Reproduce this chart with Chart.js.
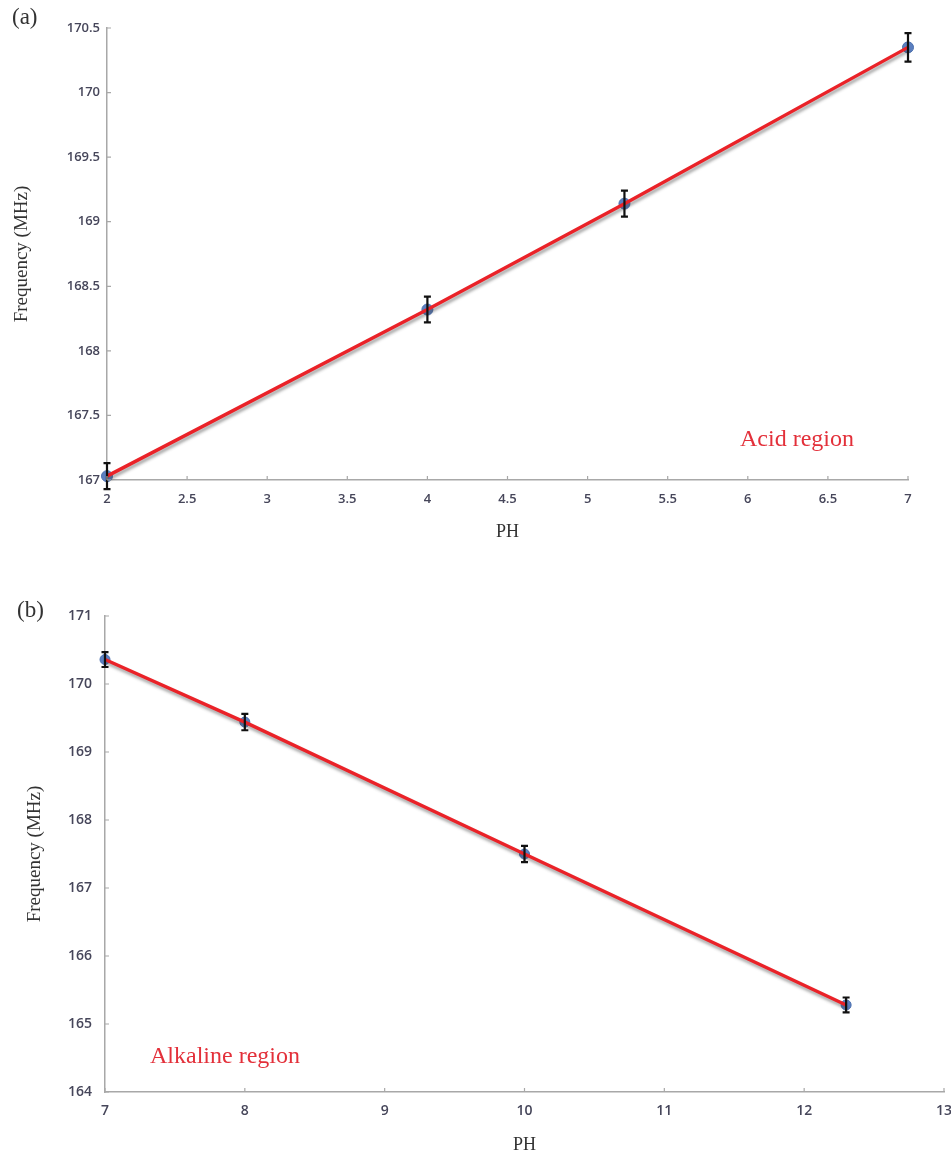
<!DOCTYPE html>
<html>
<head>
<meta charset="utf-8">
<script src="https://cdn.jsdelivr.net/npm/chart.js@4.4.1/dist/chart.umd.min.js"></script>
<style>
  html, body { margin: 0; padding: 0; background: #fff; }
  body { width: 951px; height: 1164px; position: relative; overflow: hidden; }
  .panel { position: absolute; left: 0; width: 951px; }
  .tag { position: absolute; font-family: "Liberation Serif", serif; font-size: 23px; color: #333; }
  .region { position: absolute; font-family: "Liberation Serif", serif; font-size: 24px; color: #e3303a; }
</style>
</head>
<body>
<div class="panel" style="top:0;height:560px"><canvas id="acid"></canvas></div>
<div class="panel" style="top:560px;height:604px"><canvas id="alkaline"></canvas></div>
<div class="tag" style="left:12px;top:4px">(a)</div>
<div class="tag" style="left:17px;top:597px">(b)</div>
<div class="region" style="left:740px;top:425px">Acid region</div>
<div class="region" style="left:150px;top:1042px">Alkaline region</div>
<script>
// Acid region measurements
const phAcid = [2, 4, 5.23, 7];
const freqAcid = [167.03, 168.32, 169.14, 170.35];
const errAcid = [0.1, 0.1, 0.1, 0.11];

// Alkaline region measurements
const phAlk = [7, 8, 10, 12.3];
const freqAlk = [170.36, 169.44, 167.5, 165.28];
const errAlk = [0.11, 0.12, 0.12, 0.11];

// Axis ranges and tick steps
const xAcidTicks = { min: 2, max: 7, step: 0.5 };
const yAcidTicks = { min: 167, max: 170.5, step: 0.5 };
const xAlkTicks = { min: 7, max: 13, step: 1 };
const yAlkTicks = { min: 164, max: 171, step: 1 };

const AXIS_COLOR = '#a8a8a8';
const TICK_COLOR = '#46465a';

// Soft grey shadow under the fitted red line (dataset 0)
const lineShadow = {
  id: 'lineShadow',
  beforeDatasetDraw(chart, args) {
    if (args.index !== 0) return;
    const ctx = chart.ctx;
    ctx.save();
    ctx.shadowColor = 'rgba(60,60,60,0.45)';
    ctx.shadowBlur = 3;
    ctx.shadowOffsetX = 1;
    ctx.shadowOffsetY = 3;
  },
  afterDatasetDraw(chart, args) {
    if (args.index !== 0) return;
    chart.ctx.restore();
  }
};

// Vertical error bars with caps, drawn over the markers
const errorBars = {
  id: 'errorBars',
  afterDatasetsDraw(chart, args, opts) {
    const { ctx, scales: { x, y } } = chart;
    const xs = opts.xs, ys = opts.ys, es = opts.errs;
    ctx.save();
    ctx.strokeStyle = '#111';
    ctx.lineWidth = 2.2;
    for (let i = 0; i < xs.length; i++) {
      const px = x.getPixelForValue(xs[i]);
      const top = y.getPixelForValue(ys[i] + es[i]);
      const bot = y.getPixelForValue(ys[i] - es[i]);
      ctx.beginPath();
      ctx.moveTo(px, top); ctx.lineTo(px, bot);
      ctx.moveTo(px - opts.cap, top); ctx.lineTo(px + opts.cap, top);
      ctx.moveTo(px - opts.cap, bot); ctx.lineTo(px + opts.cap, bot);
      ctx.stroke();
    }
    ctx.restore();
  }
};

// Short tick marks pointing into the plot area
const innerTicks = {
  id: 'innerTicks',
  afterDraw(chart) {
    const { ctx, scales: { x, y }, chartArea } = chart;
    ctx.save();
    ctx.strokeStyle = AXIS_COLOR;
    ctx.lineWidth = 1.2;
    ctx.beginPath();
    y.ticks.forEach((t, i) => {
      const py = y.getPixelForTick(i);
      ctx.moveTo(chartArea.left, py); ctx.lineTo(chartArea.left + 4, py);
    });
    x.ticks.forEach((t, i) => {
      const px = x.getPixelForTick(i);
      ctx.moveTo(px, chartArea.bottom); ctx.lineTo(px, chartArea.bottom - 4);
    });
    ctx.stroke();
    ctx.restore();
  }
};

// Plain number labels: 2, 2.5, 170 ... (no forced decimals)
const plainLabel = v => String(Math.round(v * 100) / 100);

function makeChart(id, xs, ys, errs, xr, yr, geo) {
  const pts = xs.map((v, i) => ({ x: v, y: ys[i] }));
  return new Chart(document.getElementById(id), {
    type: 'scatter',
    data: {
      datasets: [
        {
          label: 'fit',
          data: pts,
          showLine: true,
          borderColor: '#ea2228',
          borderWidth: 3.4,
          pointRadius: 0,
          fill: false,
          clip: false
        },
        {
          label: 'Frequency',
          data: pts,
          showLine: false,
          pointRadius: geo.marker,
          pointBackgroundColor: '#5b7fc0',
          pointBorderColor: '#4a6fae',
          pointBorderWidth: 1,
          clip: false
        }
      ]
    },
    options: {
      responsive: true,
      maintainAspectRatio: false,
      animation: false,
      events: [],
      layout: { padding: geo.pad },
      plugins: {
        legend: { display: false },
        tooltip: { enabled: false },
        errorBars: { xs, ys, errs, cap: geo.cap }
      },
      scales: {
        x: {
          type: 'linear',
          min: xr.min, max: xr.max,
          grid: { display: false, drawTicks: false },
          border: { display: true, color: AXIS_COLOR, width: 1.5 },
          ticks: {
            stepSize: xr.step,
            padding: geo.xTickPad,
            color: TICK_COLOR,
            font: { family: 'Open Sans', size: geo.tickSize, weight: '600' },
            maxRotation: 0,
            callback: plainLabel
          },
          title: {
            display: true,
            text: 'PH',
            color: '#333',
            font: { family: 'Liberation Serif', size: 18 },
            padding: { top: 0, bottom: geo.xTitlePad }
          },
          afterFit(s) { s.height = geo.xHeight; s.paddingLeft = 0; s.paddingRight = 0; }
        },
        y: {
          type: 'linear',
          min: yr.min, max: yr.max,
          grid: { display: false, drawTicks: false },
          border: { display: true, color: AXIS_COLOR, width: 1.5 },
          ticks: {
            stepSize: yr.step,
            padding: geo.yTickPad,
            color: TICK_COLOR,
            font: { family: 'Open Sans', size: geo.tickSize, weight: '600' },
            callback: plainLabel
          },
          title: {
            display: true,
            text: 'Frequency (MHz)',
            color: '#333',
            font: { family: 'Liberation Serif', size: 19 },
            padding: { top: geo.yTitlePad, bottom: 0 }
          },
          afterFit(s) { s.width = geo.yWidth; s.paddingTop = 0; s.paddingBottom = 0; }
        }
      }
    },
    plugins: [lineShadow, errorBars, innerTicks]
  });
}

makeChart('acid', phAcid, freqAcid, errAcid, xAcidTicks, yAcidTicks, {
  pad: { left: 0, right: 43, top: 28, bottom: 10 },
  xHeight: 70, yWidth: 107,
  xTickPad: 11, yTickPad: 7,
  xTitlePad: 7, yTitlePad: 11,
  tickSize: 13, marker: 5.5, cap: 3.5
});

makeChart('alkaline', phAlk, freqAlk, errAlk, xAlkTicks, yAlkTicks, {
  pad: { left: 0, right: 7, top: 56, bottom: 2 },
  xHeight: 70, yWidth: 105,
  xTickPad: 11, yTickPad: 13,
  xTitlePad: 6, yTitlePad: 24,
  tickSize: 14, marker: 5, cap: 3.5
});
</script>
</body>
</html>
